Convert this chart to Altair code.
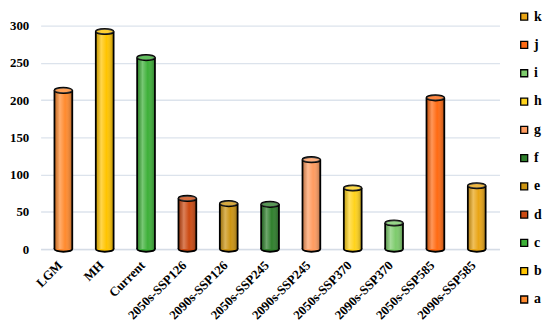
import altair as alt
import pandas as pd

categories = ["LGM", "MH", "Current", "2050s-SSP126", "2090s-SSP126", "2050s-SSP245",
              "2090s-SSP245", "2050s-SSP370", "2090s-SSP370", "2050s-SSP585", "2090s-SSP585"]
values = [213, 292, 257, 68, 61, 60, 120, 82, 35, 203, 85]
groups = ["a", "b", "c", "d", "e", "f", "g", "h", "i", "j", "k"]
colors = ["#FF8A2E", "#FFC400", "#3DB038", "#CC4A12", "#CC9412", "#2F7F2C",
          "#FF9C60", "#FFD31C", "#7DCB6C", "#FF6A12", "#E9A516"]
y_ticks = [0, 50, 100, 150, 200, 250, 300]

df = pd.DataFrame({"cat": categories, "value": values, "group": groups})

FONT = "Liberation Serif"
ELLIPSE = "M -1 0 A 1 0.3 0 1 1 1 0 A 1 0.3 0 1 1 -1 0 Z"
BAR_W = 18
SW = 1.8

x_enc = alt.X(
    "cat:N", sort=categories,
    scale=alt.Scale(paddingInner=0, paddingOuter=0.05),
    axis=alt.Axis(title=None, labelAngle=-45, labelAlign="right", labelBaseline="middle",
                  labelFont=FONT, labelFontWeight="bold", labelFontSize=13,
                  labelColor="black", ticks=False, domainColor="#D5DCE6",
                  domainWidth=1.5, labelPadding=14, labelOffset=-3, labelOverlap=False),
)
y_scale = alt.Scale(domain=[0, 300])
y_axis = alt.Axis(title=None, values=y_ticks, labelFont=FONT, labelFontWeight="bold",
                  labelFontSize=13, labelColor="black", ticks=False, domain=False,
                  gridColor="#DCE3EC", gridWidth=1.3, labelPadding=12,
                  labelOverlap=False)
y_enc = alt.Y("value:Q", scale=y_scale, axis=y_axis)
y_zero = alt.Y("zero:Q", scale=y_scale, axis=y_axis)

color_enc = alt.Color(
    "group:N",
    scale=alt.Scale(domain=groups, range=colors),
    legend=alt.Legend(title=None, values=groups[::-1], orient="none", legendX=482,
                      legendY=-16, symbolType="square", symbolSize=50,
                      symbolStrokeColor="black", symbolStrokeWidth=1.3,
                      symbolOpacity=1, labelFont=FONT, labelFontWeight="bold",
                      labelFontSize=14, labelColor="black", rowPadding=14.6,
                      labelOffset=3),
)

base = alt.Chart(df).transform_calculate(zero="0")

bottom_cap = base.mark_point(shape=ELLIPSE, size=BAR_W * BAR_W, filled=True,
                             stroke="black", strokeWidth=SW, opacity=1).encode(
    x=x_enc, y=y_zero, color=color_enc)

bar = base.mark_bar(width=BAR_W).encode(x=x_enc, y=y_enc, color=color_enc)

shade = base.mark_bar(
    width=BAR_W,
    color=alt.Gradient(
        gradient="linear", x1=0, x2=1, y1=0, y2=0,
        stops=[alt.GradientStop(color="rgba(0,0,0,0.22)", offset=0),
               alt.GradientStop(color="rgba(255,255,255,0.30)", offset=0.3),
               alt.GradientStop(color="rgba(255,255,255,0.0)", offset=0.6),
               alt.GradientStop(color="rgba(0,0,0,0.30)", offset=1)],
    ),
).encode(x=x_enc, y=y_enc)

left_edge = base.mark_rule(xOffset=-BAR_W / 2, color="black", strokeWidth=SW).encode(
    x=x_enc, y=y_zero, y2="value:Q")
right_edge = base.mark_rule(xOffset=BAR_W / 2, color="black", strokeWidth=SW).encode(
    x=x_enc, y=y_zero, y2="value:Q")

top_cap = base.mark_point(shape=ELLIPSE, size=BAR_W * BAR_W, filled=True,
                          stroke="black", strokeWidth=SW, opacity=1).encode(
    x=x_enc, y=y_enc, color=color_enc)

top_light = base.mark_point(shape=ELLIPSE, size=BAR_W * BAR_W, filled=True,
                            color="white", opacity=0.2).encode(x=x_enc, y=y_enc)

chart = alt.layer(bottom_cap, bar, shade, left_edge, right_edge, top_cap, top_light).properties(
    width=464, height=226,
    autosize=alt.AutoSizeParams(type="none"),
    padding={"left": 33, "top": 16, "right": 43, "bottom": 74},
    background="white",
).configure_view(stroke=None)

chart.save("out.html", embed_options={"renderer": "svg", "actions": False})
